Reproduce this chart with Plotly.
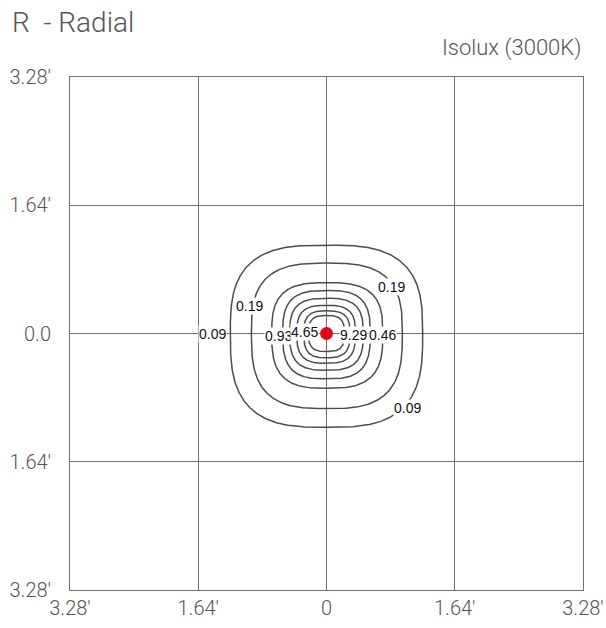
import numpy as np
import plotly.graph_objects as go

# ---- data (feet) ----
axis_ticks = [-3.28, -1.64, 0.0, 1.64, 3.28]
x_tick_text = ["3.28'", "1.64'", "0", "1.64'", "3.28'"]
y_tick_text = ["3.28'", "1.64'", "0.0", "1.64'", "3.28'"]

# isolux rings, outer -> inner: extent to the right, left, top, bottom (ft)
ring_right = [1.23, 0.97, 0.72, 0.56, 0.47, 0.37, 0.30, 0.23]
ring_left = [1.23, 0.96, 0.70, 0.56, 0.47, 0.38, 0.29, 0.23]
ring_top = [1.13, 0.90, 0.65, 0.55, 0.45, 0.36, 0.29, 0.23]
ring_bottom = [1.20, 0.96, 0.70, 0.58, 0.47, 0.38, 0.31, 0.23]

# contour labels and where they sit
label_text = ["0.09", "0.09", "0.19", "0.19", "0.93", "4.65", "9.29", "0.46"]
label_x = [-1.46, 1.04, -0.99, 0.83, -0.61, -0.28, 0.34, 0.72]
label_y = [0.0, -0.95, 0.35, 0.60, -0.03, 0.02, -0.02, -0.02]

source_x = [0.0]
source_y = [0.0]

SQUARENESS = 3.0
LINE_COLOR = "#4d4d4d"
GRID_COLOR = "#707070"
TEXT_COLOR = "#555555"

fig = go.Figure()

t = np.linspace(0, 2 * np.pi, 721)
cu = np.sign(np.cos(t)) * np.abs(np.cos(t)) ** (2 / SQUARENESS)
su = np.sign(np.sin(t)) * np.abs(np.sin(t)) ** (2 / SQUARENESS)
for r, l, tp, b in zip(ring_right, ring_left, ring_top, ring_bottom):
    xs = np.where(cu >= 0, cu * r, cu * l)
    ys = np.where(su >= 0, su * tp, su * b)
    fig.add_trace(go.Scatter(x=xs, y=ys, mode="lines",
                             line=dict(color=LINE_COLOR, width=1.5),
                             hoverinfo="skip", showlegend=False))

fig.add_trace(go.Scatter(x=source_x, y=source_y, mode="markers",
                         marker=dict(color="#e30613", size=13),
                         hoverinfo="skip", showlegend=False))

for txt, lx, ly in zip(label_text, label_x, label_y):
    fig.add_annotation(x=lx, y=ly, xref="x", yref="y", text=txt,
                       showarrow=False, bgcolor="white", borderpad=0,
                       font=dict(family="Liberation Sans, Arial", size=14,
                                 color="#111111"))

fig.add_annotation(xref="paper", yref="paper", x=-0.117, y=1.107,
                   xanchor="left", yanchor="middle", showarrow=False,
                   text="R&nbsp;&nbsp;- Radial",
                   font=dict(family="Roboto", size=28, color=TEXT_COLOR,
                             weight=300))
fig.add_annotation(xref="paper", yref="paper", x=1.0, y=1.057,
                   xanchor="right", yanchor="middle", showarrow=False,
                   text="Isolux (3000K)",
                   font=dict(family="Roboto", size=22, color=TEXT_COLOR,
                             weight=300))

axis_common = dict(range=[-3.28, 3.28], tickvals=axis_ticks,
                   showgrid=True, gridcolor=GRID_COLOR, gridwidth=1,
                   zeroline=False, showline=True, linecolor=GRID_COLOR,
                   linewidth=1, mirror=True, ticks="",
                   tickfont=dict(family="Roboto", size=20, color=TEXT_COLOR,
                                 weight=300),
                   fixedrange=True, automargin=False)

fig.update_xaxes(ticktext=x_tick_text, ticklabelstandoff=0, **axis_common)
fig.update_yaxes(ticktext=y_tick_text, ticklabelstandoff=14, **axis_common)

fig.update_layout(width=606, height=628,
                  margin=dict(l=70, r=23, t=77, b=38, autoexpand=False),
                  paper_bgcolor="white", plot_bgcolor="white",
                  showlegend=False)

fig.write_html("out.html", config=dict(displayModeBar=False),
               post_script="document.body.style.margin='0';")
